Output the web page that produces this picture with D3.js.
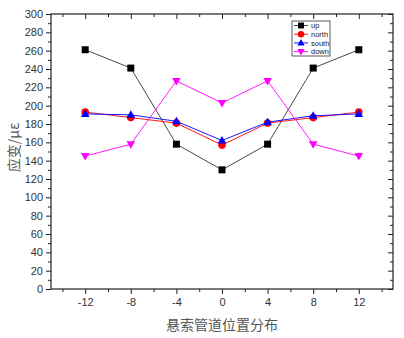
<!DOCTYPE html>
<html><head><meta charset="utf-8">
<script src="https://cdn.jsdelivr.net/npm/d3@7"></script>
<style>
html,body{margin:0;padding:0;background:#fff;}
svg{display:block;}
</style></head>
<body>
<script>
// Strain along the suspended pipeline, four measuring directions
const positions = [-12, -8, -4, 0, 4, 8, 12];
const upVals    = [261, 241, 158, 130, 158, 241, 261];
const northVals = [193, 187, 181, 157, 181, 187, 193];
const southVals = [191, 190, 183, 162, 182, 189, 191];
const downVals  = [145, 158, 227, 203, 227, 158, 145];
const seriesNames = ["up", "north", "south", "down"];
const xTicks = [-12, -8, -4, 0, 4, 8, 12];
const yTicks = d3.range(0, 301, 20);
const xLabel = "悬索管道位置分布";
const yLabel = "应变/με";

const W = 404, H = 338;
const m = {left: 51, right: 11, top: 14, bottom: 49};
const svg = d3.select("body").append("svg").attr("width", W).attr("height", H);

const x = d3.scaleLinear().domain([-15, 15]).range([m.left, W - m.right]);
const y = d3.scaleLinear().domain([0, 300]).range([H - m.bottom, m.top]);

const series = [
  {name: seriesNames[0], vals: upVals,    color: "#000000", line: "#333333", shape: "square"},
  {name: seriesNames[1], vals: northVals, color: "#ff0000", line: "#ff0000", shape: "circle"},
  {name: seriesNames[2], vals: southVals, color: "#0000ff", line: "#0000ff", shape: "up"},
  {name: seriesNames[3], vals: downVals,  color: "#ff00ff", line: "#ff00ff", shape: "down"}
];

const axisColor = "#222";
const tickFont = "Arial, 'Liberation Sans', sans-serif";
const g = svg.append("g");

// frame
g.append("rect").attr("x", m.left).attr("y", m.top)
  .attr("width", W - m.right - m.left).attr("height", H - m.bottom - m.top)
  .attr("fill", "none").attr("stroke", axisColor).attr("stroke-width", 1.2);

// bottom axis: major + minor ticks outward
const xMinor = d3.range(-14, 15, 2).filter(v => !xTicks.includes(v));
const xAxis = g.append("g").attr("transform", `translate(0,${H - m.bottom})`)
  .call(d3.axisBottom(x).tickValues(xTicks).tickSize(5).tickPadding(4).tickFormat(d => String(d)));
xAxis.select(".domain").remove();
xAxis.selectAll("line").attr("stroke", axisColor);
xAxis.selectAll("text").attr("font-family", tickFont).attr("font-size", 11).attr("fill", "#333");
g.append("g").attr("transform", `translate(0,${H - m.bottom})`)
  .call(d3.axisBottom(x).tickValues(xMinor).tickSize(3).tickFormat(""))
  .call(a => a.select(".domain").remove())
  .selectAll("line").attr("stroke", axisColor);

// top axis: ticks inward
g.append("g").attr("transform", `translate(0,${m.top})`)
  .call(d3.axisBottom(x).tickValues(xTicks).tickSize(5).tickFormat(""))
  .call(a => a.select(".domain").remove())
  .selectAll("line").attr("stroke", axisColor);
g.append("g").attr("transform", `translate(0,${m.top})`)
  .call(d3.axisBottom(x).tickValues(xMinor).tickSize(3).tickFormat(""))
  .call(a => a.select(".domain").remove())
  .selectAll("line").attr("stroke", axisColor);

// left axis: outward ticks
const yMinor = d3.range(10, 300, 20);
const yAxis = g.append("g").attr("transform", `translate(${m.left},0)`)
  .call(d3.axisLeft(y).tickValues(yTicks).tickSize(5).tickPadding(3).tickFormat(d => String(d)));
yAxis.select(".domain").remove();
yAxis.selectAll("line").attr("stroke", axisColor);
yAxis.selectAll("text").attr("font-family", tickFont).attr("font-size", 11).attr("fill", "#333");
g.append("g").attr("transform", `translate(${m.left},0)`)
  .call(d3.axisLeft(y).tickValues(yMinor).tickSize(3).tickFormat(""))
  .call(a => a.select(".domain").remove())
  .selectAll("line").attr("stroke", axisColor);

// right axis: inward ticks
g.append("g").attr("transform", `translate(${W - m.right},0)`)
  .call(d3.axisRight(y).tickValues(yTicks).tickSize(-5).tickFormat(""))
  .call(a => a.select(".domain").remove())
  .selectAll("line").attr("stroke", axisColor);
g.append("g").attr("transform", `translate(${W - m.right},0)`)
  .call(d3.axisRight(y).tickValues(yMinor).tickSize(-3).tickFormat(""))
  .call(a => a.select(".domain").remove())
  .selectAll("line").attr("stroke", axisColor);

// axis titles
svg.append("text").attr("x", (m.left + W - m.right) / 2).attr("y", 330)
  .attr("text-anchor", "middle").attr("font-family", "'Noto Sans CJK SC', sans-serif")
  .attr("font-size", 14).attr("fill", "#555").text(xLabel);
svg.append("text").attr("transform", `translate(19,${(m.top + H - m.bottom) / 2 - 4}) rotate(-90)`)
  .attr("text-anchor", "middle").attr("font-family", "'Noto Sans CJK SC', sans-serif")
  .attr("font-size", 14).attr("fill", "#555").text(yLabel);

// marker drawing
function marker(sel, shape, color) {
  if (shape === "square") {
    sel.append("rect").attr("x", -3.5).attr("y", -3.5).attr("width", 7).attr("height", 7).attr("fill", color);
  } else if (shape === "circle") {
    sel.append("circle").attr("r", 3.8).attr("fill", color);
  } else if (shape === "up") {
    sel.append("path").attr("d", "M0,-4.5L4.3,3L-4.3,3Z").attr("fill", color);
  } else {
    sel.append("path").attr("d", "M0,4.5L4.3,-3L-4.3,-3Z").attr("fill", color);
  }
}

const line = d3.line().x(d => x(d[0])).y(d => y(d[1]));
series.forEach(s => {
  const pts = positions.map((p, i) => [p, s.vals[i]]);
  g.append("path").datum(pts).attr("d", line).attr("fill", "none")
    .attr("stroke", s.line).attr("stroke-width", 0.9);
  g.selectAll(null).data(pts).enter().append("g")
    .attr("transform", d => `translate(${x(d[0])},${y(d[1])})`)
    .each(function() { marker(d3.select(this), s.shape, s.color); });
});

// legend
const lg = svg.append("g").attr("transform", "translate(292,21)");
lg.append("rect").attr("width", 38).attr("height", 35).attr("fill", "#fff")
  .attr("stroke", "#333").attr("stroke-width", 0.8);
series.forEach((s, i) => {
  const row = lg.append("g").attr("transform", `translate(0,${4.5 + i * 8.7})`);
  row.append("line").attr("x1", 2).attr("x2", 16).attr("stroke", s.line).attr("stroke-width", 0.9);
  const mk = row.append("g").attr("transform", "translate(9,0) scale(0.85)");
  marker(mk, s.shape, s.color);
  row.append("text").attr("x", 19).attr("y", 2.6).attr("font-family", tickFont)
    .attr("font-size", 7.5).attr("fill", "#222").text(s.name);
});
</script>
</body></html>
